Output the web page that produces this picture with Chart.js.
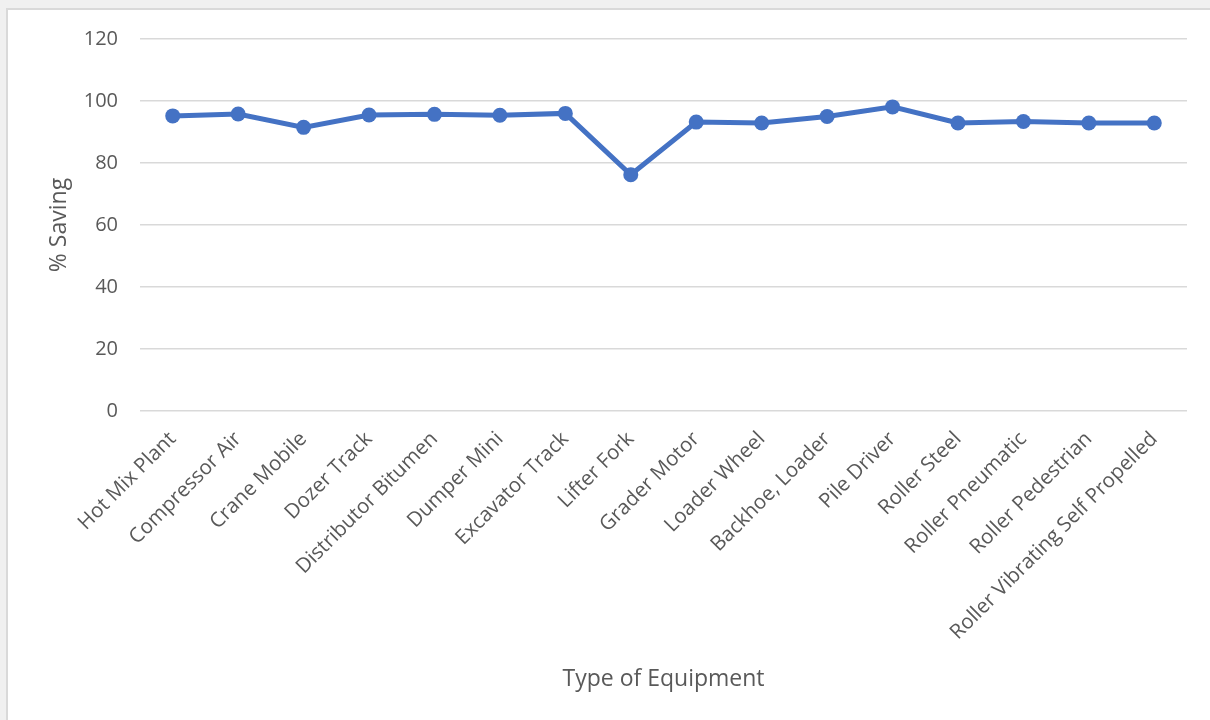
<!DOCTYPE html>
<html>
<head>
<meta charset="utf-8">
<script src="https://cdn.jsdelivr.net/npm/chart.js@4/dist/chart.umd.min.js"></script>
<style>
  html, body { margin: 0; padding: 0; background: #f0f0f0; overflow: hidden; }
  #frame {
    position: absolute; left: 6px; top: 8px;
    width: 1210px; height: 720px;
    background: #fff; border: 2px solid #d9d9d9; box-sizing: border-box;
  }
  #wrap { position: absolute; left: 0; top: -5px; width: 1202px; height: 715px; }
</style>
</head>
<body>
<div id="frame"><div id="wrap"><canvas id="myChart"></canvas></div></div>
<script>
const equipment = [
  'Hot Mix Plant', 'Compressor Air', 'Crane Mobile', 'Dozer Track',
  'Distributor Bitumen', 'Dumper Mini', 'Excavator Track', 'Lifter Fork',
  'Grader Motor', 'Loader Wheel', 'Backhoe, Loader', 'Pile Driver',
  'Roller Steel', 'Roller Pneumatic', 'Roller Pedestrian', 'Roller Vibrating Self Propelled'
];
const saving = [95.2, 95.8, 91.5, 95.5, 95.7, 95.4, 96.0, 76.2,
                93.2, 92.9, 95.0, 98.1, 92.9, 93.4, 92.9, 92.9];
const yTicks = [0, 20, 40, 60, 80, 100, 120];

const blue = '#4472C4';
const grey = '#595959';
const font = 'Open Sans';

new Chart(document.getElementById('myChart'), {
  type: 'line',
  data: {
    labels: equipment,
    datasets: [{
      data: saving,
      borderColor: blue,
      backgroundColor: blue,
      borderWidth: 5,
      pointRadius: 7.5,
      pointBorderWidth: 0,
      tension: 0
    }]
  },
  options: {
    responsive: true,
    maintainAspectRatio: false,
    animation: false,
    layout: { padding: { left: 38, top: 23, right: 23, bottom: 0 } },
    plugins: { legend: { display: false }, tooltip: { enabled: false } },
    scales: {
      x: {
        offset: true,
        grid: { display: false },
        border: { display: false },
        ticks: {
          color: grey, font: { family: font, size: 20.5 },
          maxRotation: 45, minRotation: 45, autoSkip: false, padding: 8
        },
        title: {
          display: true, text: 'Type of Equipment', color: grey,
          font: { family: font, size: 23 }, padding: { top: 0, bottom: 27 }
        },
        afterFit: s => { s.height = 309; }
      },
      y: {
        min: 0, max: 120,
        afterBuildTicks: s => { s.ticks = yTicks.map(v => ({ value: v })); },
        grid: { color: '#d9d9d9', lineWidth: 1.5, drawTicks: false },
        border: { display: false },
        ticks: { color: grey, font: { family: font, size: 20 }, padding: 22 },
        title: {
          display: true, text: '% Saving', color: grey,
          font: { family: font, size: 23 }, padding: 0
        },
        afterFit: s => { s.width = 94; }
      }
    }
  }
});
</script>
</body>
</html>
